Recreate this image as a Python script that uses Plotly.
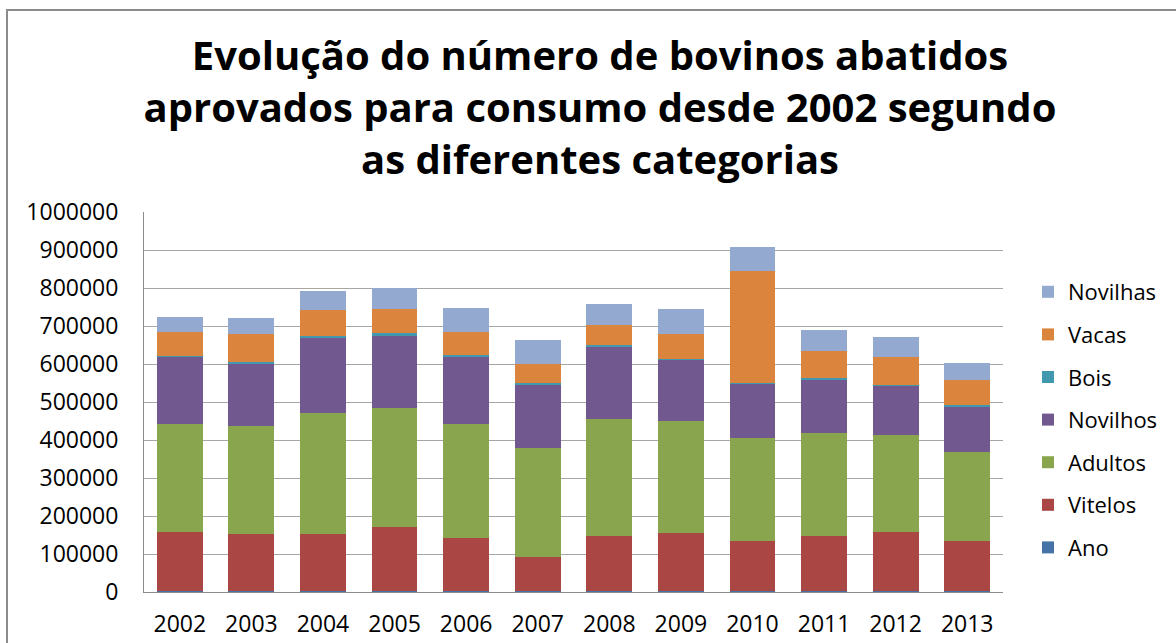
import plotly.graph_objects as go

anos = ["2002", "2003", "2004", "2005", "2006", "2007", "2008", "2009", "2010", "2011", "2012", "2013"]
ano_vals = [2002, 2003, 2004, 2005, 2006, 2007, 2008, 2009, 2010, 2011, 2012, 2013]
vitelos = [157000, 151000, 151000, 169000, 139000, 91000, 145000, 154000, 133000, 145000, 155000, 133000]
adultos = [283000, 283000, 319000, 313000, 301000, 286000, 307000, 295000, 271000, 271000, 255000, 233000]
novilhos = [177000, 165000, 196000, 191000, 179000, 167000, 192000, 160000, 142000, 141000, 131000, 120000]
bois = [3000, 4000, 6000, 6000, 4000, 3500, 3000, 3000, 3000, 3000, 2000, 3000]
vacas = [62000, 73000, 68000, 65000, 60000, 51000, 53000, 64000, 295000, 71000, 74000, 66000]
novilhas = [41000, 44000, 51000, 54000, 62000, 61500, 56000, 66000, 62000, 57000, 51000, 45000]

series = [
    ("Ano", ano_vals, "#4572A7"),
    ("Vitelos", vitelos, "#AA4643"),
    ("Adultos", adultos, "#89A54E"),
    ("Novilhos", novilhos, "#71588F"),
    ("Bois", bois, "#4198AF"),
    ("Vacas", vacas, "#DB843D"),
    ("Novilhas", novilhas, "#93A9CF"),
]

fig = go.Figure()
n = len(series)
for i, (name, vals, col) in enumerate(series):
    fig.add_trace(go.Bar(
        x=anos, y=vals, name=name, legendgroup=name, legendrank=n - i,
        marker=dict(color=col, line=dict(width=0)),
    ))

font_family = "Open Sans"
W, H = 1176, 643
L, R, T, B = 144, 173, 212, 51
pw, ph = W - L - R, H - T - B

fig.update_layout(
    width=W, height=H,
    barmode="stack", bargap=0.36,
    paper_bgcolor="white", plot_bgcolor="white",
    margin=dict(l=L, r=R, t=T, b=B, autoexpand=False),
    title=dict(
        text="Evolução do número de bovinos abatidos<br>aprovados para consumo desde 2002 segundo<br>as diferentes categorias",
        x=600 / W, xref="container", xanchor="center",
        y=1 - 70 / H, yref="container", yanchor="top",
        font=dict(family=font_family, size=40, color="#000000", weight="bold"),
    ),
    font=dict(family=font_family, size=23, color="#000000"),
    showlegend=True,
    legend=dict(
        traceorder="grouped", tracegroupgap=11,
        x=(1028 - L) / pw, xref="paper", xanchor="left",
        y=(H - B - 271) / ph, yanchor="top",
        font=dict(family=font_family, size=22, color="#000000"),
        bgcolor="rgba(0,0,0,0)",
    ),
    xaxis=dict(
        type="category", showgrid=False, showline=True, linecolor="#8C8C8C", linewidth=1,
        ticks="", tickfont=dict(size=23), ticklabelstandoff=11, automargin=False,
    ),
    yaxis=dict(
        range=[0, 1000000], tickvals=[0, 100000, 200000, 300000, 400000, 500000, 600000, 700000, 800000, 900000, 1000000],
        ticktext=["0", "100000", "200000", "300000", "400000", "500000", "600000", "700000", "800000", "900000", "1000000"],
        showgrid=True, gridcolor="#A6A6A6", gridwidth=1,
        showline=True, linecolor="#8C8C8C", linewidth=1, zeroline=False,
        ticks="", tickfont=dict(size=23), ticklabelstandoff=20, automargin=False,
    ),
    shapes=[dict(
        type="rect", xref="paper", yref="paper",
        x0=(7 - L) / pw, x1=(1200 - L) / pw,
        y0=-0.3, y1=(H - B - 10) / ph,
        line=dict(color="#8C8C8C", width=2), fillcolor="rgba(0,0,0,0)", layer="below",
    )],
)

fig.write_html("out.html", config={"displayModeBar": False},
               post_script="document.body.style.margin='0';document.body.style.overflow='hidden';")
